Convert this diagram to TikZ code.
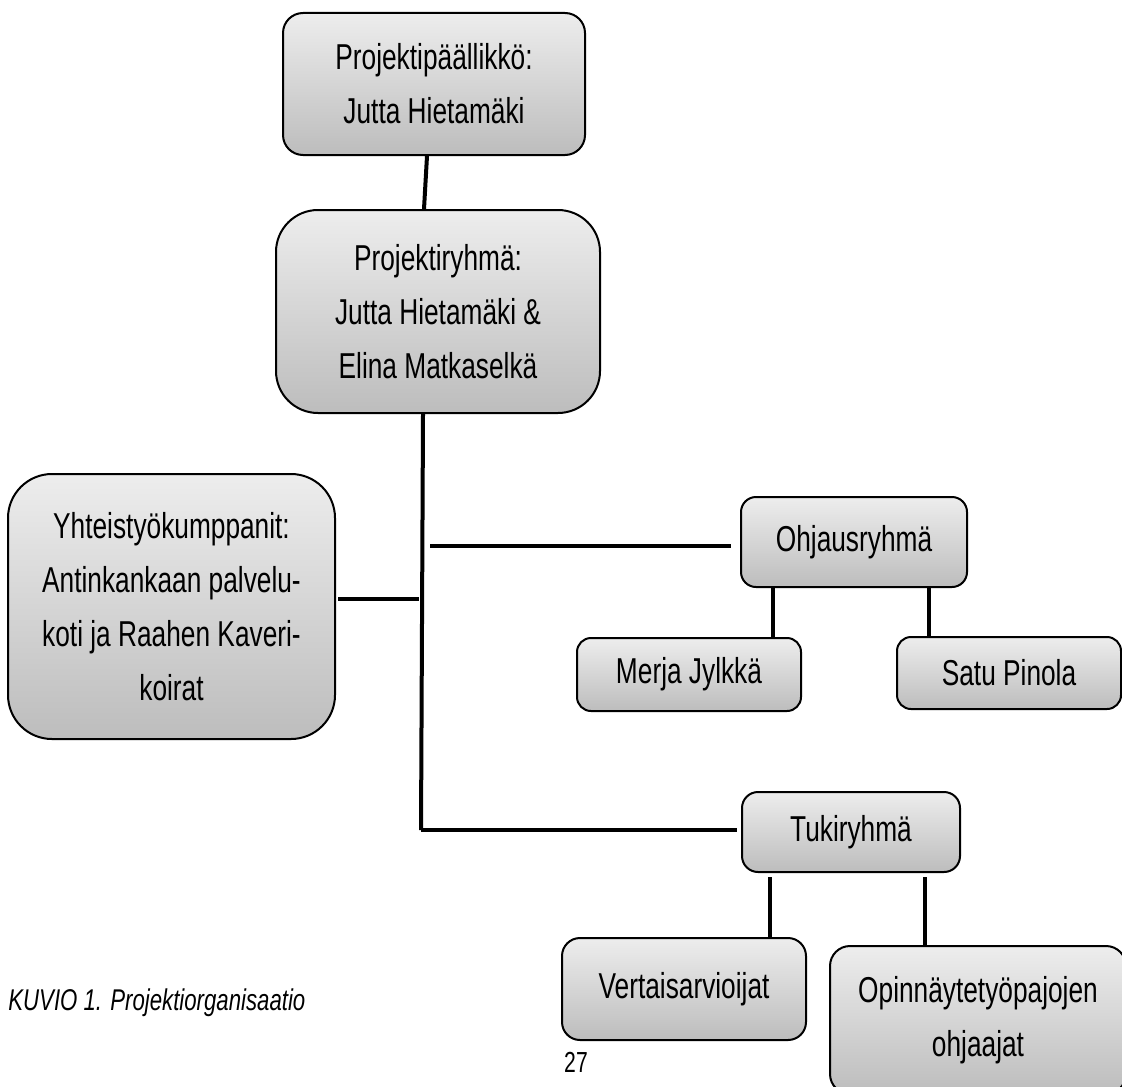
\documentclass[tikz,border=0pt]{standalone}
\usepackage{fontspec}
\setmainfont{Liberation Sans}[FakeStretch=0.73]
\newfontfamily\capfont{Liberation Sans}[FakeStretch=0.74]
\begin{document}
\begin{tikzpicture}[x=0.5pt,y=-0.5pt,
    orgbox/.style={draw,line width=1pt,rounded corners=#1,top color=black!7,bottom color=black!26,
      align=center,inner sep=0pt,font=\fontsize{18}{27}\selectfont},
    link/.style={line width=2pt}]
  \useasboundingbox (0,0) rectangle (1122,1086);
  \clip (0,0) rectangle (1122,1086);
  \node[orgbox=10pt,minimum width=151pt,minimum height=71pt] (paallikko) at (434,84) {Projektipäällikkö:\\Jutta Hietamäki};
  \node[orgbox=21pt,minimum width=162pt,minimum height=101.5pt] (ryhma) at (438,311.5) {Projektiryhmä:\\Jutta Hietamäki \&\\Elina Matkaselkä};
  \node[orgbox=22pt,minimum width=163.5pt,minimum height=132.5pt] (yhteistyo) at (171.5,606.5) {Yhteistyökumppanit:\\Antinkankaan palvelu-\\koti ja Raahen Kaveri-\\koirat};
  \node[orgbox=7.5pt,minimum width=113pt,minimum height=45pt] (ohjaus) at (854,542) {Ohjausryhmä};
  \node[orgbox=7pt,minimum width=112pt,minimum height=36.5pt] (merja) at (689,674.5) {Merja Jylkkä};
  \node[orgbox=7pt,minimum width=112pt,minimum height=36pt] (satu) at (1009,673) {Satu Pinola};
  \node[orgbox=8pt,minimum width=109pt,minimum height=40pt] (tuki) at (851,832) {Tukiryhmä};
  \node[orgbox=9pt,minimum width=122pt,minimum height=51pt] (vertais) at (684,989) {Vertaisarvioijat};
  \node[orgbox=10pt,minimum width=148pt,minimum height=74pt] (opinn) at (978,1020) {Opinnäytetyöpajojen\\ohjaajat};
  \node[anchor=base west,inner sep=0pt,font=\capfont\fontsize{15}{16}\selectfont\itshape] (kuvio) at (8,1010) {KUVIO 1. Projektiorganisaatio};
  \node[font=\fontsize{14.5}{16}\selectfont] (sivu) at (576,1062) {27};
  \coordinate (spineO) at (430,546);
  \coordinate (spineY) at (419,599);
  \coordinate (spinebot) at (421,830);
  \draw[link] (427,0 |- paallikko.south) -- (424,0 |- ryhma.north);
  \draw[link] (423,0 |- ryhma.south) -- (spinebot);
  \draw[link,shorten >=4.5pt] (spineO) -- (spineO -| ohjaus.west);
  \draw[link,shorten <=1pt] (yhteistyo.east |- spineY) -- (spineY);
  \draw[link,shorten >=2pt] (spinebot) -- (spinebot -| tuki.west);
  \draw[link] (773,0 |- ohjaus.south) -- (773,0 |- merja.north);
  \draw[link] (929,0 |- ohjaus.south) -- (929,0 |- satu.north);
  \draw[link] (770,0 |- tuki.south) ++(0,4) -- (770,0 |- vertais.north);
  \draw[link] (925,0 |- tuki.south) ++(0,4) -- (925,0 |- opinn.north);
\end{tikzpicture}
\end{document}
